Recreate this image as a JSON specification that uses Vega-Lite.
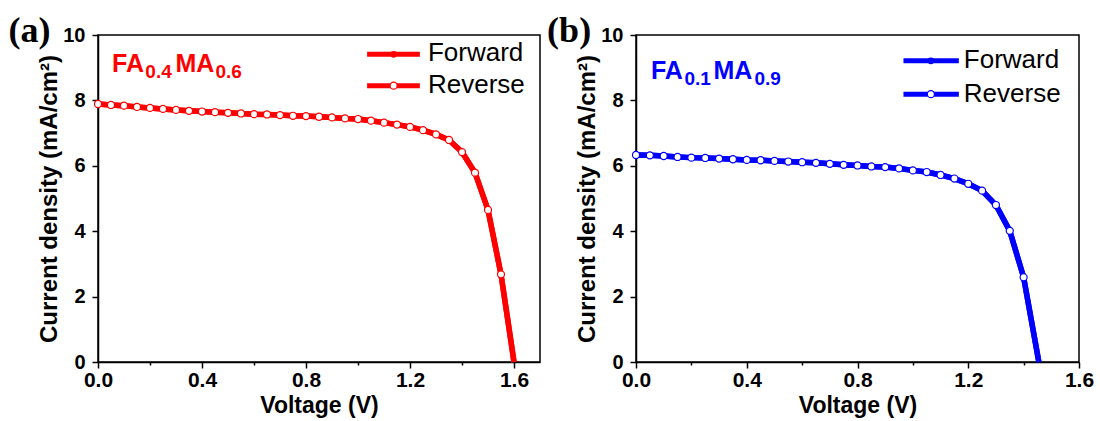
{
  "$schema": "https://vega.github.io/schema/vega-lite/v6.json",
  "padding": {"left": 7, "top": 11, "right": 5, "bottom": 2},
  "background": "white",
  "spacing": 5,
  "config": {
    "view": {"stroke": "black", "strokeWidth": 1.5},
    "axis": {
      "grid": false,
      "domainColor": "black",
      "domainWidth": 1.5,
      "tickColor": "black",
      "tickWidth": 1.5,
      "labelFont": "Liberation Sans",
      "labelFontWeight": "bold",
      "labelColor": "black",
      "labelOverlap": false,
      "labelFlush": false,
      "titleFont": "Liberation Sans",
      "titleFontWeight": "bold",
      "titleColor": "black"
    },
    "axisX": {"labelFontSize": 21, "labelPadding": 1, "titleFontSize": 23, "titlePadding": 4},
    "axisY": {"labelFontSize": 20, "labelPadding": 7, "titleFontSize": 24, "titlePadding": 1}
  },
  "datasets": {
    "a": [
      {"V": 0.00, "Forward": 7.89, "Reverse": 7.89},
      {"V": 0.05, "Forward": 7.86, "Reverse": 7.86},
      {"V": 0.10, "Forward": 7.84, "Reverse": 7.84},
      {"V": 0.15, "Forward": 7.80, "Reverse": 7.80},
      {"V": 0.20, "Forward": 7.77, "Reverse": 7.77},
      {"V": 0.25, "Forward": 7.74, "Reverse": 7.74},
      {"V": 0.30, "Forward": 7.71, "Reverse": 7.71},
      {"V": 0.35, "Forward": 7.68, "Reverse": 7.68},
      {"V": 0.40, "Forward": 7.66, "Reverse": 7.66},
      {"V": 0.45, "Forward": 7.64, "Reverse": 7.64},
      {"V": 0.50, "Forward": 7.62, "Reverse": 7.62},
      {"V": 0.55, "Forward": 7.60, "Reverse": 7.60},
      {"V": 0.60, "Forward": 7.58, "Reverse": 7.58},
      {"V": 0.65, "Forward": 7.57, "Reverse": 7.57},
      {"V": 0.70, "Forward": 7.55, "Reverse": 7.55},
      {"V": 0.75, "Forward": 7.53, "Reverse": 7.53},
      {"V": 0.80, "Forward": 7.52, "Reverse": 7.52},
      {"V": 0.85, "Forward": 7.50, "Reverse": 7.50},
      {"V": 0.90, "Forward": 7.48, "Reverse": 7.48},
      {"V": 0.95, "Forward": 7.45, "Reverse": 7.45},
      {"V": 1.00, "Forward": 7.43, "Reverse": 7.43},
      {"V": 1.05, "Forward": 7.38, "Reverse": 7.38},
      {"V": 1.10, "Forward": 7.32, "Reverse": 7.32},
      {"V": 1.15, "Forward": 7.26, "Reverse": 7.26},
      {"V": 1.20, "Forward": 7.19, "Reverse": 7.19},
      {"V": 1.25, "Forward": 7.09, "Reverse": 7.09},
      {"V": 1.30, "Forward": 6.96, "Reverse": 6.96},
      {"V": 1.35, "Forward": 6.79, "Reverse": 6.79},
      {"V": 1.40, "Forward": 6.42, "Reverse": 6.42},
      {"V": 1.45, "Forward": 5.79, "Reverse": 5.79},
      {"V": 1.50, "Forward": 4.65, "Reverse": 4.65},
      {"V": 1.55, "Forward": 2.68, "Reverse": 2.68},
      {"V": 1.60, "Forward": 0, "Reverse": 0}
    ],
    "b": [
      {"V": 0.00, "Forward": 6.33, "Reverse": 6.33},
      {"V": 0.05, "Forward": 6.32, "Reverse": 6.32},
      {"V": 0.10, "Forward": 6.30, "Reverse": 6.30},
      {"V": 0.15, "Forward": 6.27, "Reverse": 6.27},
      {"V": 0.20, "Forward": 6.25, "Reverse": 6.25},
      {"V": 0.25, "Forward": 6.24, "Reverse": 6.24},
      {"V": 0.30, "Forward": 6.22, "Reverse": 6.22},
      {"V": 0.35, "Forward": 6.20, "Reverse": 6.20},
      {"V": 0.40, "Forward": 6.18, "Reverse": 6.18},
      {"V": 0.45, "Forward": 6.17, "Reverse": 6.17},
      {"V": 0.50, "Forward": 6.15, "Reverse": 6.15},
      {"V": 0.55, "Forward": 6.13, "Reverse": 6.13},
      {"V": 0.60, "Forward": 6.11, "Reverse": 6.11},
      {"V": 0.65, "Forward": 6.09, "Reverse": 6.09},
      {"V": 0.70, "Forward": 6.06, "Reverse": 6.06},
      {"V": 0.75, "Forward": 6.03, "Reverse": 6.03},
      {"V": 0.80, "Forward": 6.01, "Reverse": 6.01},
      {"V": 0.85, "Forward": 5.98, "Reverse": 5.98},
      {"V": 0.90, "Forward": 5.96, "Reverse": 5.96},
      {"V": 0.95, "Forward": 5.92, "Reverse": 5.92},
      {"V": 1.00, "Forward": 5.86, "Reverse": 5.86},
      {"V": 1.05, "Forward": 5.81, "Reverse": 5.81},
      {"V": 1.10, "Forward": 5.72, "Reverse": 5.72},
      {"V": 1.15, "Forward": 5.61, "Reverse": 5.61},
      {"V": 1.20, "Forward": 5.45, "Reverse": 5.45},
      {"V": 1.25, "Forward": 5.24, "Reverse": 5.24},
      {"V": 1.30, "Forward": 4.80, "Reverse": 4.80},
      {"V": 1.35, "Forward": 4.01, "Reverse": 4.01},
      {"V": 1.40, "Forward": 2.59, "Reverse": 2.59},
      {"V": 1.455, "Forward": 0, "Reverse": 0}
    ],
    "notesA": [
      {"t": "(a)"}, {"t": "FA"}, {"t": "0.4"}, {"t": "MA"}, {"t": "0.6"}, {"t": "Forward"}, {"t": "Reverse"}
    ],
    "notesB": [
      {"t": "(b)"}, {"t": "FA"}, {"t": "0.1"}, {"t": "MA"}, {"t": "0.9"}, {"t": "Forward"}, {"t": "Reverse"}
    ]
  },
  "hconcat": [
    {
      "width": 442,
      "height": 327,
      "layer": [
        {"data": {"name": "a"}, "transform": [{"fold": ["Forward"], "as": ["dir", "J"]}],
         "mark": {"type": "line", "color": "#ff0000", "strokeWidth": 5.5},
         "encoding": {
           "x": {"field": "V", "type": "quantitative", "scale": {"domain": [0, 1.7], "nice": false, "zero": false},
             "axis": {"title": "Voltage (V)",
               "values": [0, 0.2, 0.4, 0.6, 0.8, 1.0, 1.2, 1.4, 1.6],
               "labelExpr": "round(datum.value*10) % 4 === 0 ? format(datum.value, '.1f') : ''",
               "tickSize": {"condition": {"test": "round(datum.value*10) % 4 === 0", "value": 6}, "value": 3}}},
           "y": {"field": "J", "type": "quantitative", "scale": {"domain": [0, 10], "nice": false},
             "axis": {"title": "Current density (mA/cm²)",
               "values": [0, 1, 2, 3, 4, 5, 6, 7, 8, 9, 10],
               "labelExpr": "datum.value % 2 === 0 ? datum.value : ''",
               "tickSize": {"condition": {"test": "datum.value % 2 === 0", "value": 6}, "value": 3}}}
         }},
        {"data": {"name": "a"}, "transform": [{"fold": ["Forward"], "as": ["dir", "J"]}, {"filter": "datum.J > 0"}],
         "mark": {"type": "point", "shape": "circle", "filled": true, "color": "#ff0000", "size": 30, "opacity": 1},
         "encoding": {"x": {"field": "V", "type": "quantitative"}, "y": {"field": "J", "type": "quantitative"}}},
        {"data": {"name": "a"}, "transform": [{"fold": ["Reverse"], "as": ["dir", "J"]}],
         "mark": {"type": "line", "color": "#ff0000", "strokeWidth": 5.5},
         "encoding": {"x": {"field": "V", "type": "quantitative"}, "y": {"field": "J", "type": "quantitative"}}},
        {"data": {"name": "a"}, "transform": [{"fold": ["Reverse"], "as": ["dir", "J"]}, {"filter": "datum.J > 0"}],
         "mark": {"type": "point", "shape": "circle", "filled": true, "fill": "white", "stroke": "#ff0000", "strokeWidth": 1.2, "size": 50, "opacity": 1},
         "encoding": {"x": {"field": "V", "type": "quantitative"}, "y": {"field": "J", "type": "quantitative"}}},
        {"data": {"name": "notesA"}, "transform": [{"filter": "datum.t === 'Forward'"}],
         "mark": {"type": "rule", "color": "#ff0000", "strokeWidth": 5},
         "encoding": {"x": {"datum": 1.035, "type": "quantitative"}, "x2": {"datum": 1.238}, "y": {"datum": 9.41, "type": "quantitative"}}},
        {"data": {"name": "notesA"}, "transform": [{"filter": "datum.t === 'Reverse'"}],
         "mark": {"type": "rule", "color": "#ff0000", "strokeWidth": 5},
         "encoding": {"x": {"datum": 1.035, "type": "quantitative"}, "x2": {"datum": 1.238}, "y": {"datum": 8.45, "type": "quantitative"}}},
        {"data": {"name": "notesA"}, "transform": [{"filter": "datum.t === 'Forward'"}],
         "mark": {"type": "point", "shape": "circle", "filled": true, "color": "#ff0000", "size": 45, "opacity": 1},
         "encoding": {"x": {"datum": 1.137, "type": "quantitative"}, "y": {"datum": 9.41, "type": "quantitative"}}},
        {"data": {"name": "notesA"}, "transform": [{"filter": "datum.t === 'Reverse'"}],
         "mark": {"type": "point", "shape": "circle", "filled": true, "fill": "white", "stroke": "#ff0000", "strokeWidth": 1.2, "size": 50, "opacity": 1},
         "encoding": {"x": {"datum": 1.137, "type": "quantitative"}, "y": {"datum": 8.45, "type": "quantitative"}}},
        {"data": {"name": "notesA"}, "transform": [{"filter": "datum.t === 'Forward'"}],
         "mark": {"type": "text", "font": "Liberation Sans", "fontSize": 26, "color": "black", "align": "left", "baseline": "alphabetic"},
         "encoding": {"text": {"field": "t"}, "x": {"datum": 1.269, "type": "quantitative"}, "y": {"datum": 9.21, "type": "quantitative"}}},
        {"data": {"name": "notesA"}, "transform": [{"filter": "datum.t === 'Reverse'"}],
         "mark": {"type": "text", "font": "Liberation Sans", "fontSize": 26, "color": "black", "align": "left", "baseline": "alphabetic"},
         "encoding": {"text": {"field": "t"}, "x": {"datum": 1.269, "type": "quantitative"}, "y": {"datum": 8.22, "type": "quantitative"}}},
        {"data": {"name": "notesA"}, "transform": [{"filter": "datum.t === 'FA'"}],
         "mark": {"type": "text", "font": "Liberation Sans", "fontWeight": "bold", "fontSize": 25, "color": "#ff0000", "align": "left", "baseline": "alphabetic"},
         "encoding": {"text": {"field": "t"}, "x": {"datum": 0.054, "type": "quantitative"}, "y": {"datum": 8.86, "type": "quantitative"}}},
        {"data": {"name": "notesA"}, "transform": [{"filter": "datum.t === '0.4'"}],
         "mark": {"type": "text", "font": "Liberation Sans", "fontWeight": "bold", "fontSize": 19, "color": "#ff0000", "align": "left", "baseline": "alphabetic"},
         "encoding": {"text": {"field": "t"}, "x": {"datum": 0.182, "type": "quantitative"}, "y": {"datum": 8.67, "type": "quantitative"}}},
        {"data": {"name": "notesA"}, "transform": [{"filter": "datum.t === 'MA'"}],
         "mark": {"type": "text", "font": "Liberation Sans", "fontWeight": "bold", "fontSize": 25, "color": "#ff0000", "align": "left", "baseline": "alphabetic"},
         "encoding": {"text": {"field": "t"}, "x": {"datum": 0.298, "type": "quantitative"}, "y": {"datum": 8.86, "type": "quantitative"}}},
        {"data": {"name": "notesA"}, "transform": [{"filter": "datum.t === '0.6'"}],
         "mark": {"type": "text", "font": "Liberation Sans", "fontWeight": "bold", "fontSize": 19, "color": "#ff0000", "align": "left", "baseline": "alphabetic"},
         "encoding": {"text": {"field": "t"}, "x": {"datum": 0.452, "type": "quantitative"}, "y": {"datum": 8.67, "type": "quantitative"}}},
        {"data": {"name": "notesA"}, "transform": [{"filter": "datum.t === '(a)'"}],
         "mark": {"type": "text", "font": "Liberation Serif", "fontWeight": "bold", "fontSize": 36, "color": "black", "align": "left", "baseline": "alphabetic"},
         "encoding": {"text": {"field": "t"}, "x": {"datum": -0.344, "type": "quantitative"}, "y": {"datum": 9.80, "type": "quantitative"}}}
      ]
    },
    {
      "width": 443,
      "height": 327,
      "layer": [
        {"data": {"name": "b"}, "transform": [{"fold": ["Forward"], "as": ["dir", "J"]}],
         "mark": {"type": "line", "color": "#0000ff", "strokeWidth": 5.5},
         "encoding": {
           "x": {"field": "V", "type": "quantitative", "scale": {"domain": [0, 1.6], "nice": false, "zero": false},
             "axis": {"title": "Voltage (V)",
               "values": [0, 0.2, 0.4, 0.6, 0.8, 1.0, 1.2, 1.4, 1.6],
               "labelExpr": "round(datum.value*10) % 4 === 0 ? format(datum.value, '.1f') : ''",
               "tickSize": {"condition": {"test": "round(datum.value*10) % 4 === 0", "value": 6}, "value": 3}}},
           "y": {"field": "J", "type": "quantitative", "scale": {"domain": [0, 10], "nice": false},
             "axis": {"title": "Current density (mA/cm²)",
               "values": [0, 1, 2, 3, 4, 5, 6, 7, 8, 9, 10],
               "labelExpr": "datum.value % 2 === 0 ? datum.value : ''",
               "tickSize": {"condition": {"test": "datum.value % 2 === 0", "value": 6}, "value": 3}}}
         }},
        {"data": {"name": "b"}, "transform": [{"fold": ["Forward"], "as": ["dir", "J"]}, {"filter": "datum.J > 0"}],
         "mark": {"type": "point", "shape": "circle", "filled": true, "color": "#0000ff", "size": 30, "opacity": 1},
         "encoding": {"x": {"field": "V", "type": "quantitative"}, "y": {"field": "J", "type": "quantitative"}}},
        {"data": {"name": "b"}, "transform": [{"fold": ["Reverse"], "as": ["dir", "J"]}],
         "mark": {"type": "line", "color": "#0000ff", "strokeWidth": 5.5},
         "encoding": {"x": {"field": "V", "type": "quantitative"}, "y": {"field": "J", "type": "quantitative"}}},
        {"data": {"name": "b"}, "transform": [{"fold": ["Reverse"], "as": ["dir", "J"]}, {"filter": "datum.J > 0"}],
         "mark": {"type": "point", "shape": "circle", "filled": true, "fill": "white", "stroke": "#0000ff", "strokeWidth": 1.2, "size": 50, "opacity": 1},
         "encoding": {"x": {"field": "V", "type": "quantitative"}, "y": {"field": "J", "type": "quantitative"}}},
        {"data": {"name": "notesB"}, "transform": [{"filter": "datum.t === 'Forward'"}],
         "mark": {"type": "rule", "color": "#0000ff", "strokeWidth": 5},
         "encoding": {"x": {"datum": 0.966, "type": "quantitative"}, "x2": {"datum": 1.166}, "y": {"datum": 9.21, "type": "quantitative"}}},
        {"data": {"name": "notesB"}, "transform": [{"filter": "datum.t === 'Reverse'"}],
         "mark": {"type": "rule", "color": "#0000ff", "strokeWidth": 5},
         "encoding": {"x": {"datum": 0.966, "type": "quantitative"}, "x2": {"datum": 1.166}, "y": {"datum": 8.19, "type": "quantitative"}}},
        {"data": {"name": "notesB"}, "transform": [{"filter": "datum.t === 'Forward'"}],
         "mark": {"type": "point", "shape": "circle", "filled": true, "color": "#0000ff", "size": 45, "opacity": 1},
         "encoding": {"x": {"datum": 1.065, "type": "quantitative"}, "y": {"datum": 9.21, "type": "quantitative"}}},
        {"data": {"name": "notesB"}, "transform": [{"filter": "datum.t === 'Reverse'"}],
         "mark": {"type": "point", "shape": "circle", "filled": true, "fill": "white", "stroke": "#0000ff", "strokeWidth": 1.2, "size": 50, "opacity": 1},
         "encoding": {"x": {"datum": 1.065, "type": "quantitative"}, "y": {"datum": 8.19, "type": "quantitative"}}},
        {"data": {"name": "notesB"}, "transform": [{"filter": "datum.t === 'Forward'"}],
         "mark": {"type": "text", "font": "Liberation Sans", "fontSize": 26, "color": "black", "align": "left", "baseline": "alphabetic"},
         "encoding": {"text": {"field": "t"}, "x": {"datum": 1.184, "type": "quantitative"}, "y": {"datum": 8.98, "type": "quantitative"}}},
        {"data": {"name": "notesB"}, "transform": [{"filter": "datum.t === 'Reverse'"}],
         "mark": {"type": "text", "font": "Liberation Sans", "fontSize": 26, "color": "black", "align": "left", "baseline": "alphabetic"},
         "encoding": {"text": {"field": "t"}, "x": {"datum": 1.184, "type": "quantitative"}, "y": {"datum": 7.94, "type": "quantitative"}}},
        {"data": {"name": "notesB"}, "transform": [{"filter": "datum.t === 'FA'"}],
         "mark": {"type": "text", "font": "Liberation Sans", "fontWeight": "bold", "fontSize": 25, "color": "#0000ff", "align": "left", "baseline": "alphabetic"},
         "encoding": {"text": {"field": "t"}, "x": {"datum": 0.054, "type": "quantitative"}, "y": {"datum": 8.66, "type": "quantitative"}}},
        {"data": {"name": "notesB"}, "transform": [{"filter": "datum.t === '0.1'"}],
         "mark": {"type": "text", "font": "Liberation Sans", "fontWeight": "bold", "fontSize": 19, "color": "#0000ff", "align": "left", "baseline": "alphabetic"},
         "encoding": {"text": {"field": "t"}, "x": {"datum": 0.175, "type": "quantitative"}, "y": {"datum": 8.47, "type": "quantitative"}}},
        {"data": {"name": "notesB"}, "transform": [{"filter": "datum.t === 'MA'"}],
         "mark": {"type": "text", "font": "Liberation Sans", "fontWeight": "bold", "fontSize": 25, "color": "#0000ff", "align": "left", "baseline": "alphabetic"},
         "encoding": {"text": {"field": "t"}, "x": {"datum": 0.280, "type": "quantitative"}, "y": {"datum": 8.66, "type": "quantitative"}}},
        {"data": {"name": "notesB"}, "transform": [{"filter": "datum.t === '0.9'"}],
         "mark": {"type": "text", "font": "Liberation Sans", "fontWeight": "bold", "fontSize": 19, "color": "#0000ff", "align": "left", "baseline": "alphabetic"},
         "encoding": {"text": {"field": "t"}, "x": {"datum": 0.428, "type": "quantitative"}, "y": {"datum": 8.47, "type": "quantitative"}}},
        {"data": {"name": "notesB"}, "transform": [{"filter": "datum.t === '(b)'"}],
         "mark": {"type": "text", "font": "Liberation Serif", "fontWeight": "bold", "fontSize": 36, "color": "black", "align": "left", "baseline": "alphabetic"},
         "encoding": {"text": {"field": "t"}, "x": {"datum": -0.321, "type": "quantitative"}, "y": {"datum": 9.80, "type": "quantitative"}}}
      ]
    }
  ]
}
